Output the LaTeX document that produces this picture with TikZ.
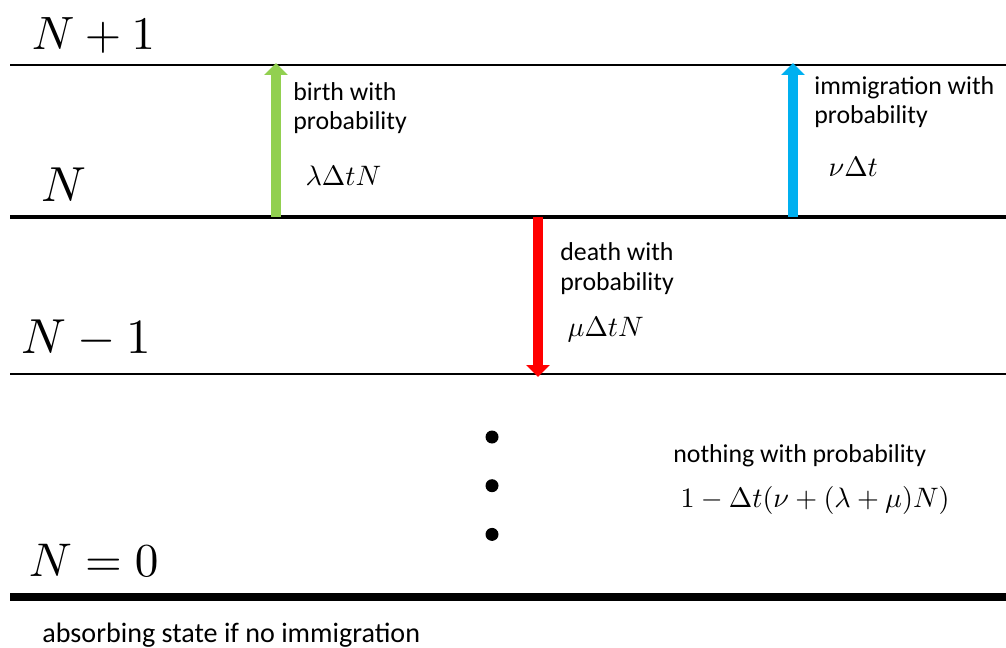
\documentclass[tikz,border=0pt]{standalone}
\usepackage{fontspec}
\setsansfont{Carlito}
\usetikzlibrary{arrows.meta,positioning}
\definecolor{birthgreen}{RGB}{146,208,80}
\definecolor{immigblue}{RGB}{0,176,240}
\definecolor{deathred}{RGB}{255,0,0}

\begin{document}
\begin{tikzpicture}[
    x=0.02cm, y=-0.02cm,
    level/.style={draw=black, line width=1.3pt},
    statelabel/.style={anchor=base west, inner sep=0pt, font=\fontsize{10}{12}\selectfont, scale=2.8, transform shape},
    eventtext/.style={anchor=base west, inner sep=0pt, align=left, font=\sffamily\fontsize{14.7}{17}\selectfont},
    rate/.style={anchor=base west, inner sep=0pt, font=\fontsize{10}{12}\selectfont, scale=1.6, transform shape},
    jump/.style={-{Triangle[width=13pt,length=6.8pt]}, line width=6.2pt},
    dot/.style={circle, fill=black, inner sep=0pt, minimum size=7.4pt}
]
    \useasboundingbox (0,0) rectangle (1006,648);

    % population levels
    \draw[level] (10,65) -- (1006,65);
    \draw[level, line width=1.8pt] (10,217) -- (1006,217);
    \draw[level] (10,374) -- (1006,374);
    \draw[level, line width=4.4pt] (10,597) -- (1006,597);

    \node[statelabel, scale=0.95] (nplus)  at (31,50)  {$N+1$};
    \node[statelabel] (nnow)   at (41,202) {$N$};
    \node[statelabel] (nminus) at (21,353) {$N-1$};
    \node[statelabel, scale=0.96] (nzero)  at (28,576) {$N=0$};

    % transitions
    \coordinate (birthfrom) at (276,217);
    \coordinate (birthto)   at (276,63);
    \coordinate (immigfrom) at (793,217);
    \coordinate (immigto)   at (793,63);
    \coordinate (deathfrom) at (538,217);
    \coordinate (deathto)   at (538,377);

    \draw[jump, birthgreen] (birthfrom) -- (birthto);
    \draw[jump, immigblue]  (immigfrom) -- (immigto);
    \draw[jump, deathred]   (deathfrom) -- (deathto);

    \node[eventtext] (birthtxt) at (293,130) {birth with\\probability};
    \node[rate]      (birthrate) at (305,186) {$\lambda\Delta t N$};
    \node[eventtext] (deathtxt) at (560,290) {death with\\probability};
    \node[rate]      (deathrate) at (567,336) {$\mu\Delta t N$};
    \node[eventtext] (immigtxt) at (814,124) {immigration with\\probability};
    \node[rate]      (immigrate) at (828,177) {$\nu\Delta t$};

    % nothing happens
    \node[dot] (dot1) at (492,437) {};
    \node[dot, below=0.7cm of dot1] (dot2) {};
    \node[dot, below=0.7cm of dot2] (dot3) {};
    \node[eventtext] (nothtxt) at (673,462) {nothing with probability};
    \node[rate]      (nothrate) at (680,507) {$1-\Delta t(\nu+(\lambda+\mu)N)$};

    \node[eventtext, font=\sffamily\fontsize{16}{19}\selectfont] (absorb) at (42,642) {absorbing state if no immigration};
\end{tikzpicture}
\end{document}
